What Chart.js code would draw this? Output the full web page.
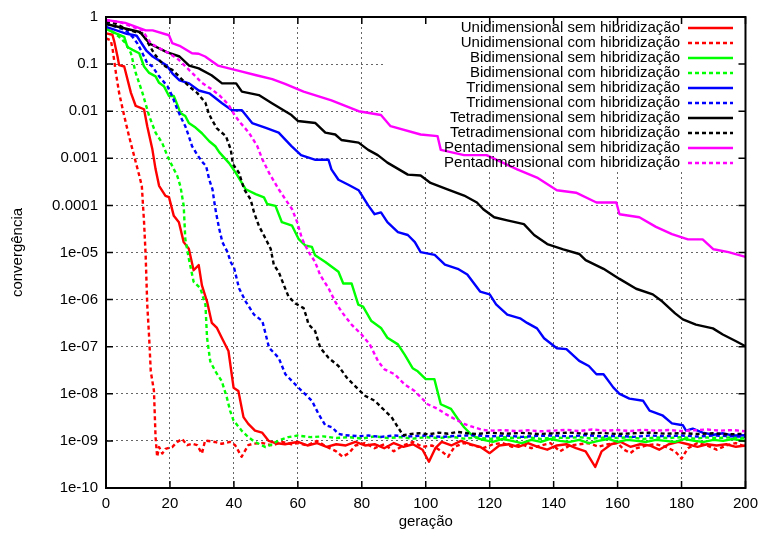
<!DOCTYPE html>
<html><head><meta charset="utf-8">
<script src="https://cdn.jsdelivr.net/npm/chart.js@4.4.1/dist/chart.umd.min.js"></script>
<style>html,body{margin:0;padding:0;background:#fff}#wrap{width:765px;height:535px;position:relative}</style>
</head><body><div id="wrap"><canvas id="c"></canvas></div>
<script>
const seriesLabels = [
  'Unidimensional sem hibridização','Unidimensional com hibridização',
  'Bidimensional sem hibridização','Bidimensional com hibridização',
  'Tridimensional sem hibridização','Tridimensional com hibridização',
  'Tetradimensional sem hibridização','Tetradimensional com hibridização',
  'Pentadimensional sem hibridização','Pentadimensional com hibridização'];
const seriesColors = ['#ff0000','#ff0000','#00ff00','#00ff00','#0000ff','#0000ff','#000000','#000000','#ff00ff','#ff00ff'];
const seriesDashed = [false,true,false,true,false,true,false,true,false,true];

const xTickValues = [0,20,40,60,80,100,120,140,160,180,200];
const yTickValues = [1e-10,1e-9,1e-8,1e-7,1e-6,1e-5,1e-4,1e-3,1e-2,0.1,1];
const yTickLabels = ['1e-10','1e-09','1e-08','1e-07','1e-06','1e-05','0.0001','0.001','0.01','0.1','1'];

// [geração, convergência]
const uniSem = [[0,0.45],[2,0.42],[2.6,0.3],[3.6,0.145],[4.1,0.095],[5.7,0.089],[7.8,0.0245],[9.3,0.0129],[11.9,0.011],[12.9,4.8e-3],[14.5,1.55e-3],[15.5,5.9e-4],[16.6,2.6e-4],[18.6,1.6e-4],[19.7,1.5e-4],[21.2,6e-5],[22.8,4.4e-5],[24.3,1.66e-5],[25.9,1.2e-5],[27.4,4.2e-6],[29,5.4e-6],[30,2.0e-6],[31.6,9.1e-7],[33.1,3.2e-7],[34.7,2.5e-7],[36.2,1.55e-7],[38.3,8.1e-8],[39.9,1.35e-8],[41.4,1.15e-8],[43,3.2e-9],[44.5,2.3e-9],[46.6,1.66e-9],[48.8,1.5e-9],[50.9,1.0e-9],[53,9e-10],[56,8.5e-10],[58,9e-10],[60,9.5e-10],[63,8e-10],[66,9e-10],[69,7.5e-10],[72,8.5e-10],[75,8e-10],[78,9.5e-10],[81,8e-10],[84,8.5e-10],[87,7e-10],[90,9e-10],[93,7.5e-10],[96,8.5e-10],[99,6.5e-10],[101,3.6e-10],[103,7e-10],[105,9.5e-10],[108,8e-10],[111,1.0e-9],[114,8.5e-10],[117,7.5e-10],[120,5.5e-10],[123,8e-10],[126,8.5e-10],[129,7.5e-10],[132,9e-10],[135,7.5e-10],[138,6.5e-10],[141,8e-10],[144,8.5e-10],[147,7e-10],[150,6e-10],[153,2.8e-10],[155,6e-10],[158,8.5e-10],[161,9.5e-10],[164,7.5e-10],[167,8.5e-10],[170,8e-10],[173,6.5e-10],[176,8.5e-10],[179,9.5e-10],[182,8.5e-10],[185,7.5e-10],[188,8.5e-10],[191,8e-10],[194,8.5e-10],[197,7.5e-10],[200,8e-10]];
const uniCom = [[0,0.35],[1.5,0.32],[2.1,0.2],[3.1,0.065],[4.1,0.0245],[5.7,7.9e-3],[7.2,2.95e-3],[8.8,1.12e-3],[10.4,4.3e-4],[11.2,2.6e-4],[11.9,4.4e-5],[12.4,8.7e-6],[12.9,7.8e-7],[13.5,1.55e-7],[14,3e-8],[15,1.15e-8],[15.5,1.2e-9],[16,4.6e-10],[16.6,7.4e-10],[17.6,5.4e-10],[18.6,6.8e-10],[20.7,7.4e-10],[22.3,9.5e-10],[23.8,1.1e-9],[25.4,8.1e-10],[26.9,8.7e-10],[28.5,8.1e-10],[30,5.4e-10],[31,1.02e-9],[34,9.5e-10],[36.2,8.7e-10],[38.8,9.5e-10],[40.4,8.1e-10],[42.4,4.6e-10],[44.5,8.1e-10],[46,8.7e-10],[49,9e-10],[52,8e-10],[55,9.5e-10],[58,8.5e-10],[60,9e-10],[63,8e-10],[66,1.0e-9],[69,7.5e-10],[72,6e-10],[74,4.6e-10],[76,5.5e-10],[78,8e-10],[81,9e-10],[84,7e-10],[87,8.5e-10],[90,6e-10],[93,8e-10],[96,9.5e-10],[99,7.5e-10],[102,8e-10],[105,6e-10],[107,4.6e-10],[109,7.5e-10],[112,9e-10],[115,8e-10],[118,7e-10],[121,8.5e-10],[124,9e-10],[127,7.5e-10],[130,8.5e-10],[133,7e-10],[136,8e-10],[139,9e-10],[142,6e-10],[145,8e-10],[148,8.5e-10],[151,9e-10],[154,7.5e-10],[157,8.5e-10],[160,9e-10],[162,6.5e-10],[164,5.5e-10],[166,7e-10],[169,8e-10],[172,8.5e-10],[175,7.5e-10],[178,6e-10],[180,4.2e-10],[182,7e-10],[185,9e-10],[188,8e-10],[191,6.5e-10],[194,8e-10],[197,9e-10],[200,7.5e-10]];
const biSem = [[0,0.56],[3.1,0.45],[5.7,0.38],[6.7,0.23],[8.3,0.2],[10.4,0.17],[11.9,0.089],[13.5,0.065],[15.5,0.055],[16.6,0.04],[18.1,0.034],[19.7,0.021],[21.2,0.021],[22.3,0.0138],[23.3,9.1e-3],[24.8,7.9e-3],[25.9,5.6e-3],[28,4.5e-3],[30,3.4e-3],[32.3,2.3e-3],[34.2,1.8e-3],[35.4,1.35e-3],[38.5,7.9e-4],[40.6,4.9e-4],[43.7,2.2e-4],[46.8,1.74e-4],[49.4,1.48e-4],[50.4,1.07e-4],[53,9.8e-5],[55,4.4e-5],[58.2,3.7e-5],[60.2,1.95e-5],[62.3,1.41e-5],[64.4,1.32e-5],[65.4,8.7e-6],[68.6,6.3e-6],[72.7,3.9e-6],[74.2,2.2e-6],[76.8,2.2e-6],[78.9,7.8e-7],[80.4,7.1e-7],[83,3.5e-7],[86,2.5e-7],[88,1.55e-7],[91.3,1.12e-7],[93.4,6.8e-8],[95.9,3.5e-8],[97.5,3e-8],[100,2.05e-8],[102.7,2.05e-8],[104.7,6e-9],[107.9,4.8e-9],[110,2.95e-9],[112,1.95e-9],[114,1.41e-9],[116,1.15e-9],[118,1.05e-9],[121,9.5e-10],[124,1.1e-9],[127,1.0e-9],[130,9e-10],[133,1.05e-9],[136,9.5e-10],[139,1.1e-9],[142,1.0e-9],[145,9.5e-10],[148,1.05e-9],[151,9e-10],[154,1.0e-9],[157,1.1e-9],[160,9.5e-10],[163,1.05e-9],[166,1.0e-9],[169,9.5e-10],[172,1.05e-9],[175,1.0e-9],[178,9.5e-10],[181,1.1e-9],[184,1.0e-9],[187,9.5e-10],[190,1.05e-9],[193,1.0e-9],[196,1.1e-9],[200,1.0e-9]];
const biCom = [[0,0.62],[2.1,0.48],[4.1,0.38],[6.2,0.275],[7.8,0.17],[9.3,0.065],[11.4,0.0245],[13.5,7.9e-3],[15.5,3.5e-3],[17.6,2.1e-3],[19.2,1.12e-3],[20.7,6.9e-4],[22.3,4.2e-4],[23.3,2.5e-4],[24.3,9.8e-5],[24.8,1.95e-5],[25.9,7.4e-6],[27.4,2.4e-6],[29.5,1.74e-6],[31.1,7.8e-7],[31.6,1.55e-7],[32.6,4.9e-8],[34.2,3e-8],[36.2,1.86e-8],[37.8,8.3e-9],[38.8,4.4e-9],[39.9,2.7e-9],[42.4,1.66e-9],[44.5,1.2e-9],[46.6,9.5e-10],[49.9,7.4e-10],[52,8.5e-10],[54,1.02e-9],[57,1.2e-9],[60,1.3e-9],[64,1.2e-9],[68,1.25e-9],[72,1.15e-9],[76,1.2e-9],[80,1.12e-9],[84,1.25e-9],[88,1.15e-9],[92,1.2e-9],[96,1.12e-9],[100,1.2e-9],[104,1.15e-9],[108,1.22e-9],[112,1.12e-9],[116,1.18e-9],[120,1.1e-9],[124,1.2e-9],[128,1.15e-9],[132,1.2e-9],[136,1.1e-9],[140,1.18e-9],[144,1.15e-9],[148,1.2e-9],[152,1.12e-9],[156,1.18e-9],[160,1.15e-9],[164,1.2e-9],[168,1.1e-9],[172,1.18e-9],[176,1.15e-9],[180,1.2e-9],[184,1.12e-9],[188,1.18e-9],[192,1.15e-9],[196,1.2e-9],[200,1.15e-9]];
const triSem = [[0,0.62],[6.5,0.44],[9.6,0.4],[12.7,0.19],[14.6,0.145],[16.8,0.117],[19,0.093],[20.8,0.063],[23,0.045],[26,0.039],[29,0.0275],[32.3,0.024],[36.3,0.0148],[39.4,0.0105],[42.5,0.0105],[45.7,5.6e-3],[50,4.4e-3],[54,3.5e-3],[58,1.82e-3],[61,1.17e-3],[65.5,9.3e-4],[69.6,9.3e-4],[70.5,5.8e-4],[72.7,3.5e-4],[75.8,2.75e-4],[79,2.1e-4],[82,1.0e-4],[84,6.5e-5],[86,7.1e-5],[88,4.4e-5],[91.3,2.7e-5],[94.4,2.35e-5],[96.6,1.66e-5],[98.4,1.02e-5],[102.8,8.9e-6],[106,5.5e-6],[110,4.5e-6],[113,3.4e-6],[117,1.48e-6],[120,1.29e-6],[122,7.9e-7],[125.5,4.8e-7],[129.5,4.0e-7],[131.7,3.2e-7],[134.8,2.45e-7],[137,1.51e-7],[141,9.3e-8],[144,8.9e-8],[148,5e-8],[151,3.9e-8],[153.4,2.6e-8],[155.6,2.6e-8],[158.7,1.35e-8],[160.6,1.0e-8],[163.7,7.9e-9],[168,7.1e-9],[170,4.4e-9],[174,3.5e-9],[177,2.35e-9],[180.4,2.15e-9],[181.4,1.66e-9],[183.5,1.82e-9],[186.6,1.5e-9],[190,1.35e-9],[193,1.45e-9],[196,1.3e-9],[200,1.32e-9]];
const triCom = [[0,0.72],[3.1,0.62],[6.2,0.52],[8.3,0.38],[9.8,0.275],[11.4,0.17],[12.9,0.105],[14.5,0.089],[16.6,0.055],[19.2,0.034],[20.7,0.021],[22.3,0.011],[23.8,6.6e-3],[24.8,4.8e-3],[25.9,2.95e-3],[26.9,1.82e-3],[28.5,1.2e-3],[30,8.5e-4],[31.3,6.9e-4],[32.3,3.5e-4],[33.3,2.2e-4],[33.9,1.15e-4],[34.4,7.1e-5],[35.4,3.2e-5],[36.4,1.66e-5],[38,1.02e-5],[39,6.3e-6],[40.1,4.6e-6],[41.6,1.74e-6],[43.7,9.1e-7],[46.3,4.8e-7],[48.9,3.5e-7],[51,9.5e-8],[54,5.8e-8],[56.1,2.6e-8],[58.2,1.86e-8],[60.2,1.35e-8],[62.3,9.8e-9],[64.4,7.1e-9],[66.5,3.7e-9],[68.6,2.15e-9],[70.7,1.95e-9],[72.7,1.41e-9],[74.8,1.32e-9],[79,1.26e-9],[82,1.3e-9],[86,1.22e-9],[90,1.3e-9],[95,1.25e-9],[100,1.3e-9],[105,1.22e-9],[110,1.28e-9],[115,1.32e-9],[120,1.25e-9],[125,1.3e-9],[130,1.22e-9],[135,1.28e-9],[140,1.3e-9],[145,1.25e-9],[150,1.32e-9],[155,1.25e-9],[160,1.28e-9],[165,1.22e-9],[170,1.3e-9],[175,1.26e-9],[180,1.3e-9],[185,1.24e-9],[190,1.3e-9],[195,1.26e-9],[200,1.22e-9]];
const tetraSem = [[0,0.71],[10.6,0.48],[13.7,0.27],[19,0.18],[23,0.145],[26,0.093],[29,0.081],[33,0.058],[36.3,0.039],[40.7,0.039],[42.5,0.026],[47.8,0.022],[51.9,0.0148],[58,8.3e-3],[60,6.2e-3],[65.5,5.6e-3],[68.6,3.5e-3],[71.7,3.2e-3],[73.6,2.45e-3],[79,2.15e-3],[82,1.51e-3],[85,1.17e-3],[88,8.1e-4],[94.4,4.5e-4],[98.4,4.3e-4],[101.5,3.0e-4],[106.8,2.2e-4],[112,1.62e-4],[116,1.15e-4],[118,8.3e-5],[121.4,5.6e-5],[125.5,4.8e-5],[130.7,4.0e-5],[133.9,2.35e-5],[138,1.51e-5],[143,1.17e-5],[148,9.3e-6],[150,6.9e-6],[155.6,4.5e-6],[160.6,2.75e-6],[165.8,1.7e-6],[171,1.29e-6],[174,9.1e-7],[178,5.1e-7],[180.4,3.8e-7],[184.5,2.95e-7],[189.8,2.45e-7],[192.9,1.82e-7],[196.9,1.32e-7],[200,1.02e-7]];
const tetraCom = [[0,0.79],[3.1,0.72],[6.2,0.56],[9.3,0.48],[11.4,0.45],[12.9,0.3],[15,0.17],[16.6,0.123],[18.6,0.089],[20.7,0.076],[22.8,0.055],[25.9,0.034],[28.5,0.0245],[31.1,0.0151],[32.1,9.1e-3],[33.1,6.6e-3],[34.7,4.3e-3],[37.5,2.95e-3],[39,1.55e-3],[39.7,7.5e-4],[41.6,4.9e-4],[43.2,2.2e-4],[45.2,1.35e-4],[46.3,7.1e-5],[47.8,3.7e-5],[49.4,2.3e-5],[51.5,1.2e-5],[52.5,5.4e-6],[54,3.9e-6],[55.6,2.05e-6],[57.1,1.15e-6],[59.2,8.3e-7],[61.8,6.6e-7],[62.8,4.1e-7],[63.3,3.0e-7],[65.4,2.15e-7],[67,9.5e-8],[69.6,5.8e-8],[72.7,3.9e-8],[75.3,2.2e-8],[78.4,1.35e-8],[81,9.1e-9],[84.1,7.1e-9],[86.2,5.1e-9],[89.3,3.2e-9],[91.3,1.95e-9],[92.9,1.32e-9],[95.5,1.41e-9],[98,1.45e-9],[101,1.38e-9],[104,1.5e-9],[107,1.42e-9],[110,1.55e-9],[113,1.45e-9],[116,1.4e-9],[120,1.5e-9],[125,1.42e-9],[130,1.48e-9],[135,1.4e-9],[140,1.45e-9],[145,1.5e-9],[150,1.42e-9],[155,1.48e-9],[160,1.4e-9],[165,1.45e-9],[170,1.5e-9],[175,1.42e-9],[180,1.46e-9],[185,1.4e-9],[190,1.45e-9],[195,1.38e-9],[200,1.42e-9]];
const pentaSem = [[0,0.87],[6,0.75],[12.4,0.52],[14.6,0.52],[19.7,0.41],[20.7,0.28],[23,0.245],[26.9,0.17],[29,0.166],[31,0.145],[35,0.093],[41.6,0.072],[47,0.058],[52,0.048],[56,0.038],[61.8,0.026],[70.5,0.017],[79,0.01],[86,8.3e-3],[89,4.8e-3],[98.4,3.2e-3],[103.7,2.95e-3],[104.7,1.51e-3],[112,1.17e-3],[119,1.17e-3],[128.6,5.8e-4],[134.8,3.9e-4],[141,2.1e-4],[147,1.86e-4],[153.4,1.15e-4],[159.6,1.15e-4],[160.6,6.5e-5],[166.8,5.6e-5],[172,3.5e-5],[177,2.45e-5],[182,1.9e-5],[186.6,1.9e-5],[190,1.17e-5],[194.7,1.02e-5],[200,8.1e-6]];
const pentaCom = [[0,0.85],[4.1,0.79],[8.3,0.62],[11.4,0.52],[14,0.275],[17.1,0.21],[19.7,0.17],[22.8,0.123],[25.9,0.076],[28,0.055],[30,0.04],[33.1,0.029],[35.7,0.021],[38.3,0.0138],[40.4,7.9e-3],[42.1,5.6e-3],[44.7,3.5e-3],[47.3,1.82e-3],[48.9,9.5e-4],[51,4.9e-4],[54,2.2e-4],[56.1,1.35e-4],[58.2,8.3e-5],[59.8,4.4e-5],[61.3,1.95e-5],[63.4,1.02e-5],[65.4,6.3e-6],[67,3.3e-6],[69.6,1.74e-6],[71.7,9e-7],[73.7,5.5e-7],[76.8,2.95e-7],[79.9,1.82e-7],[82.5,1.12e-7],[85.1,4.9e-8],[87.1,3.3e-8],[90.3,2.6e-8],[93.4,1.58e-8],[96.5,1.15e-8],[98.6,8.3e-9],[100.6,6e-9],[103.7,4.8e-9],[106.3,3.7e-9],[108.9,2.95e-9],[112,2.3e-9],[115,1.95e-9],[118,1.7e-9],[121,1.65e-9],[124,1.7e-9],[128,1.62e-9],[132,1.68e-9],[136,1.6e-9],[140,1.65e-9],[144,1.72e-9],[148,1.62e-9],[152,1.75e-9],[156,1.65e-9],[160,1.7e-9],[164,1.62e-9],[168,1.72e-9],[172,1.65e-9],[176,1.7e-9],[180,1.62e-9],[184,1.68e-9],[188,1.75e-9],[192,1.65e-9],[196,1.7e-9],[200,1.6e-9]];

const seriesData = [uniSem, uniCom, biSem, biCom, triSem, triCom, tetraSem, tetraCom, pentaSem, pentaCom];

const FONT_FAMILY = '"Liberation Sans", Arial, sans-serif';
const FONT_SIZE = 15;
const DASH = [4,3];

const gnuplotPlugin = {
  id: 'gnuplotStyle',
  beforeDatasetsDraw(chart) {
    const ctx = chart.ctx, a = chart.chartArea;
    ctx.save();
    ctx.fillStyle = '#ffffff';
    ctx.fillRect(384, a.top, a.right - 384, 172 - a.top);
    ctx.restore();
  },
  afterDatasetsDraw(chart) {
    const ctx = chart.ctx, a = chart.chartArea, xs = chart.scales.x, ys = chart.scales.y;
    ctx.save();
    ctx.strokeStyle = '#000';
    ctx.lineWidth = 2;
    ctx.setLineDash([]);
    ctx.strokeRect(a.left, a.top, a.right - a.left, a.bottom - a.top);
    ctx.lineWidth = 1.5;
    ctx.beginPath();
    xTickValues.forEach(v => {
      const x = xs.getPixelForValue(v);
      ctx.moveTo(x, a.bottom); ctx.lineTo(x, a.bottom - 7);
      ctx.moveTo(x, a.top); ctx.lineTo(x, a.top + 7);
    });
    yTickValues.forEach(v => {
      const y = ys.getPixelForValue(v);
      ctx.moveTo(a.left, y); ctx.lineTo(a.left + 7, y);
      ctx.moveTo(a.right, y); ctx.lineTo(a.right - 7, y);
    });
    ctx.stroke();
    ctx.restore();
  },
  afterDraw(chart) {
    const ctx = chart.ctx, a = chart.chartArea;
    ctx.save();
    ctx.font = FONT_SIZE + 'px ' + FONT_FAMILY;
    ctx.fillStyle = '#000';
    ctx.textBaseline = 'middle';
    chart.data.datasets.forEach((ds, i) => {
      const y = 28 + i * 15;
      ctx.textAlign = 'right';
      ctx.fillText(ds.label, 680, y);
      ctx.strokeStyle = ds.borderColor;
      ctx.lineWidth = 2.4;
      ctx.setLineDash(ds.borderDash || []);
      ctx.beginPath(); ctx.moveTo(688, y); ctx.lineTo(733, y); ctx.stroke();
    });
    ctx.setLineDash([]);
    ctx.textAlign = 'center';
    ctx.fillText('geração', (a.left + a.right) / 2, 522);
    ctx.translate(18, (a.top + a.bottom) / 2);
    ctx.rotate(-Math.PI / 2);
    ctx.fillText('convergência', 0, 0);
    ctx.restore();
  }
};

const datasets = seriesData.map((s, i) => ({
  label: seriesLabels[i],
  data: s.map(p => ({x: p[0], y: p[1]})),
  borderColor: seriesColors[i],
  backgroundColor: seriesColors[i],
  borderWidth: 2.4,
  borderDash: seriesDashed[i] ? DASH : [],
  borderJoinStyle: 'round',
  pointRadius: 0,
  tension: 0,
  fill: false,
  order: seriesData.length - i
}));

new Chart(document.getElementById('c'), {
  type: 'line',
  data: { datasets },
  options: {
    responsive: true,
    maintainAspectRatio: false,
    animation: false,
    layout: { padding: { left: 0, right: 15, top: 13, bottom: 0 } },
    plugins: { legend: { display: false }, tooltip: { enabled: false } },
    scales: {
      x: {
        type: 'linear', min: 0, max: 200,
        afterBuildTicks: s => { s.ticks = xTickValues.map(v => ({ value: v })); },
        afterFit: s => { s.height = 47; },
        ticks: { color: '#000', font: { family: FONT_FAMILY, size: FONT_SIZE }, padding: 7, maxRotation: 0, autoSkip: false, callback: v => String(v) },
        grid: { color: '#666', drawTicks: false, lineWidth: 1 },
        border: { display: false, dash: [2, 3] }
      },
      y: {
        type: 'logarithmic', min: 1e-10, max: 1,
        afterBuildTicks: s => { s.ticks = yTickValues.map(v => ({ value: v })); },
        afterFit: s => { s.width = 106; },
        ticks: { color: '#000', font: { family: FONT_FAMILY, size: FONT_SIZE }, padding: 8, autoSkip: false, callback: (v, i) => yTickLabels[i] },
        grid: { color: '#666', drawTicks: false, lineWidth: 1 },
        border: { display: false, dash: [2, 3] }
      }
    }
  },
  plugins: [gnuplotPlugin]
});
</script>
</body></html>
